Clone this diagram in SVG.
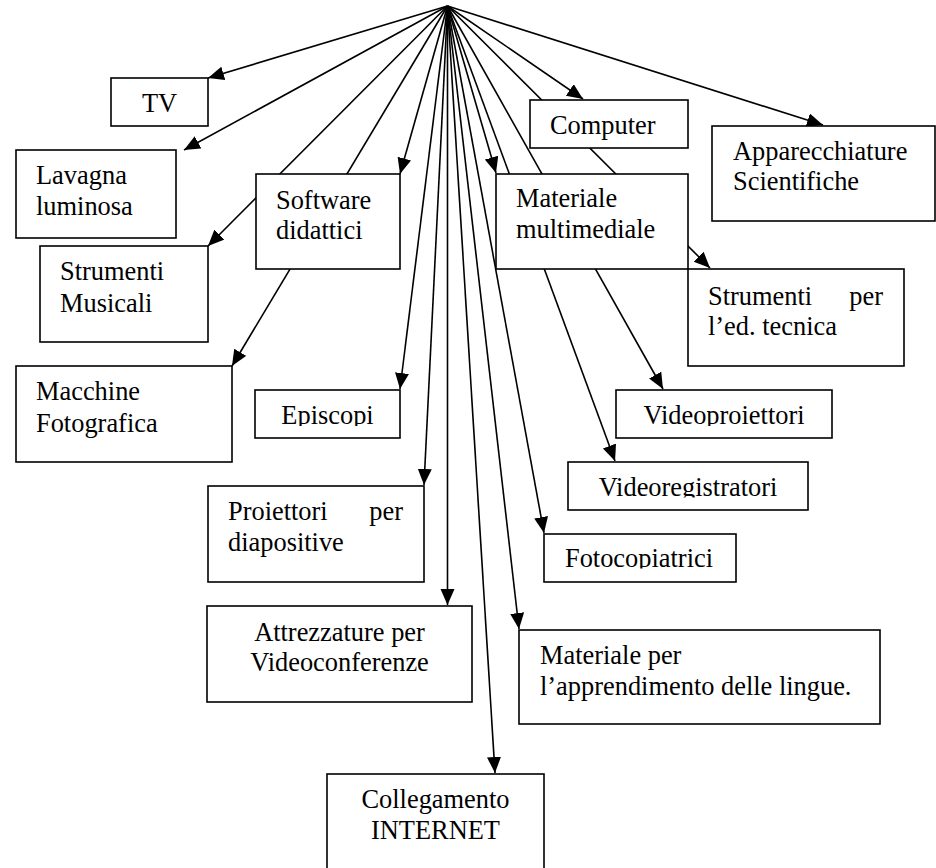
<svg xmlns="http://www.w3.org/2000/svg" width="936" height="868" viewBox="0 0 936 868">
<style>
.box{fill:#fff;stroke:#000;stroke-width:1.6}
.con line{stroke:#000;stroke-width:1.6;marker-end:url(#ah)}
text{font-family:"Liberation Serif","Times New Roman",serif;font-size:26.4px;fill:#000}
.c{text-anchor:middle}
.e{text-anchor:end}
</style>
<defs>
<marker id="ah" markerUnits="userSpaceOnUse" markerWidth="18" markerHeight="16" refX="16" refY="7" orient="auto">
<path d="M0,0 L16,7 L0,14 z" fill="#000"/>
</marker>
<clipPath id="clEp"><rect x="255" y="390" width="145" height="36"/></clipPath>
<clipPath id="clVp"><rect x="616" y="390" width="216" height="36"/></clipPath>
<clipPath id="clVr"><rect x="568" y="462" width="240" height="35.5"/></clipPath>
<clipPath id="clFc"><rect x="544" y="534" width="192" height="34.5"/></clipPath>
</defs>
<g id="connectors" class="con">
<line x1="447.5" y1="6" x2="208" y2="78"/>
<line x1="447.5" y1="6" x2="184" y2="150"/>
<line x1="447.5" y1="6" x2="208" y2="246"/>
<line x1="447.5" y1="6" x2="400" y2="174"/>
<line x1="447.5" y1="6" x2="232" y2="366"/>
<line x1="447.5" y1="6" x2="400" y2="389"/>
<line x1="447.5" y1="6" x2="424" y2="485"/>
<line x1="447.5" y1="6" x2="447.5" y2="605"/>
<line x1="447.5" y1="6" x2="495" y2="773"/>
<line x1="447.5" y1="6" x2="519" y2="629"/>
<line x1="447.5" y1="6" x2="544" y2="533"/>
<line x1="447.5" y1="6" x2="615" y2="461"/>
<line x1="447.5" y1="6" x2="663" y2="389"/>
<line x1="447.5" y1="6" x2="710" y2="268"/>
<line x1="447.5" y1="6" x2="496" y2="173"/>
<line x1="447.5" y1="6" x2="583" y2="99"/>
<line x1="447.5" y1="6" x2="823" y2="125"/>
</g>
<g id="tv"><rect class="box" x="111" y="78" width="97" height="48"/><text class="c" x="159.5" y="112">TV</text></g>
<g id="lavagna"><rect class="box" x="16" y="150" width="160" height="88"/><text x="36" y="184">Lavagna</text><text x="36" y="215">luminosa</text></g>
<g id="software"><rect class="box" x="256" y="174" width="144" height="95"/><text x="276" y="209">Software</text><text x="276" y="239">didattici</text></g>
<g id="strumenti-musicali"><rect class="box" x="40" y="246" width="168" height="96"/><text x="60" y="280">Strumenti</text><text x="60" y="312">Musicali</text></g>
<g id="macchine"><rect class="box" x="16" y="366" width="216" height="96"/><text x="36" y="400">Macchine</text><text x="36" y="432">Fotografica</text></g>
<g id="episcopi"><rect class="box" x="255" y="390" width="145" height="48"/><text class="c" x="327.5" y="424" clip-path="url(#clEp)">Episcopi</text></g>
<g id="proiettori"><rect class="box" x="208" y="486" width="216" height="96"/><text x="228" y="520">Proiettori</text><text class="e" x="403" y="520">per</text><text x="228" y="551">diapositive</text></g>
<g id="attrezzature"><rect class="box" x="207" y="606" width="265" height="96"/><text class="c" x="339.5" y="641">Attrezzature per</text><text class="c" x="339.5" y="671">Videoconferenze</text></g>
<g id="collegamento"><rect class="box" x="327" y="774" width="217" height="110"/><text class="c" x="435.5" y="808">Collegamento</text><text class="c" x="435.5" y="839">INTERNET</text></g>
<g id="computer"><rect class="box" x="530" y="100" width="158" height="48"/><text x="550" y="134">Computer</text></g>
<g id="apparecchiature"><rect class="box" x="712" y="126" width="223" height="95"/><text x="733" y="160">Apparecchiature</text><text x="733" y="190">Scientifiche</text></g>
<g id="multimediale"><rect class="box" x="496" y="174" width="192" height="95"/><text x="516" y="207">Materiale</text><text x="516" y="238">multimediale</text></g>
<g id="strumenti-tecnica"><rect class="box" x="688" y="269" width="216" height="97"/><text x="708" y="305">Strumenti</text><text class="e" x="883" y="305">per</text><text x="708" y="335">l’ed. tecnica</text></g>
<g id="videoproiettori"><rect class="box" x="616" y="390" width="216" height="48"/><text class="c" x="724" y="424" clip-path="url(#clVp)">Videoproiettori</text></g>
<g id="videoregistratori"><rect class="box" x="568" y="462" width="240" height="48"/><text class="c" x="688" y="496" clip-path="url(#clVr)">Videoregistratori</text></g>
<g id="fotocopiatrici"><rect class="box" x="544" y="534" width="192" height="48"/><text class="c" x="639" y="567" clip-path="url(#clFc)">Fotocopiatrici</text></g>
<g id="lingue"><rect class="box" x="519" y="630" width="361" height="94"/><text x="540" y="664">Materiale per</text><text x="540" y="695">l’apprendimento delle lingue.</text></g>
</svg>
